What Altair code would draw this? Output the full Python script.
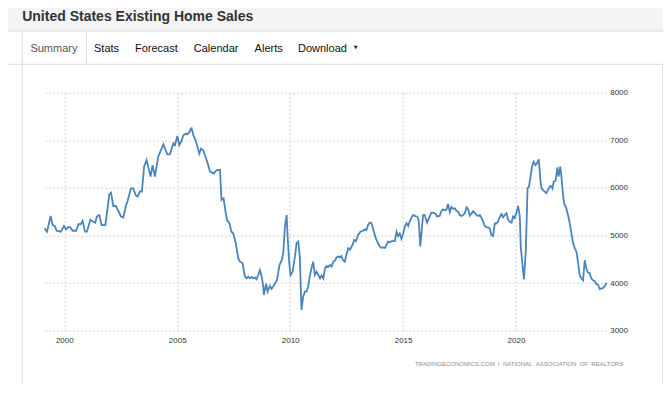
import altair as alt
import pandas as pd

# ---- data (month position after mid-Jan 1999, value in thousands SAAR) ----
month_pos = [
    1.0, 2.3, 4.2, 5.3, 6.4, 7.4, 9.7, 11.3, 12.4, 13.6, 14.7, 15.9, 17.7, 19.1, 20.2, 21.2,
    22.5, 23.5, 25.3, 26.9, 27.9, 28.8, 30.1, 31.3, 33.3, 35.4, 36.3, 37.5, 38.9, 41.6, 42.8,
    44.2, 45.1, 46.9, 48.1, 49.5, 50.4, 51.8, 52.7, 53.9,
    55.2, 57.3, 58.4, 59.6, 61.4, 64.1, 66.2, 67.6, 69.4, 70.3, 71.5, 72.6, 73.8, 74.7, 76.1,
    76.8, 77.9, 78.6, 79.1, 80.0, 81.2, 83.2, 84.1, 85.3, 87.1, 88.9, 90.9, 92.3, 94.2, 95.0,
    96.1, 97.3, 98.0, 99.2, 100.3, 101.2, 102.6, 103.9,
    104.8, 106.2, 107.4, 108.3, 109.2, 110.1, 111.0, 111.8, 112.7, 113.6, 114.5, 115.4, 116.3,
    117.2, 117.5, 118.7, 119.5, 120.7, 121.6, 122.5, 124.5, 125.8, 127.0, 127.8, 128.7, 129.6,
    130.1, 131.0, 131.7, 132.8, 134.0, 134.9, 135.8, 136.6, 137.5, 138.4, 139.3, 140.2, 141.0,
    141.9, 142.8, 143.7, 144.6, 145.5, 146.4, 147.3, 148.2, 149.1, 150.0, 150.8, 151.7, 152.6,
    153.5, 154.4, 155.3, 156.1, 157.0, 157.9,
    158.7, 159.6, 160.5, 161.4, 162.3, 163.2, 164.6, 165.5, 166.4, 167.6, 168.8, 170.3, 171.1,
    172.0, 172.9, 173.8, 174.7, 175.6, 177.0, 178.2, 179.1, 180.0, 180.9, 181.8, 182.7, 183.5,
    184.4, 185.3, 186.2, 187.1, 188.0, 188.8, 189.7, 190.6, 191.5, 192.4, 193.3, 194.2, 195.0,
    195.9, 196.8, 197.7, 198.6, 199.4, 199.9, 200.6, 202.1, 203.0, 204.2, 205.3, 206.5, 207.4,
    208.8, 209.5, 210.9,
    211.8, 212.7, 213.6, 214.5, 215.4, 216.3, 217.2, 218.1, 219.0, 219.8, 220.7, 221.6, 222.5,
    223.4, 224.3, 225.2, 226.1, 226.9, 227.8, 228.7, 229.6, 230.5, 231.4, 232.2, 233.1, 234.0,
    234.9, 235.8, 236.7, 237.5, 238.4, 239.3, 240.2, 241.0, 241.9, 242.8, 243.7, 244.6, 245.5,
    246.4, 247.3, 248.2, 249.1, 249.9, 250.8, 251.7, 252.6, 253.5, 254.0, 255.0, 255.7, 256.7,
    257.6, 258.4, 259.2, 260.0, 260.9, 261.8, 262.7, 263.6, 264.5,
    265.0, 265.8, 266.7, 267.6, 268.5, 269.4, 270.1, 270.8, 271.5, 272.5, 273.5, 274.1, 275.0,
    275.6, 276.5, 277.0, 278.2, 279.7, 280.9, 281.8, 282.7, 283.6, 284.5, 285.3, 286.2, 287.1,
    288.0, 288.8, 289.7, 290.6, 291.5, 292.4, 293.3, 294.2, 295.1, 296.0, 296.9, 297.8, 298.7,
    299.6,
]
home_sales = [
    5150, 5080, 5410, 5220, 5200, 5100, 5080, 5200, 5130, 5180, 5170, 5100, 5100, 5240, 5235, 5310,
    5080, 5080, 5330, 5290, 5270, 5400, 5430, 5220, 5220, 5870, 5900, 5620, 5620, 5400, 5380,
    5620, 5730, 5990, 5990, 5840, 5820, 5930, 5920, 6450,
    6587, 6237, 6480, 6237, 6656, 6916, 6706, 6706, 6937, 6900, 7090, 6900, 6990, 7104, 7140,
    7125, 7170, 7237, 7251, 7111, 7006, 6720, 6825, 6790, 6587, 6342, 6300, 6370, 6380, 5746,
    5780, 5467, 5320, 5257, 5080, 5047, 4837, 4522,
    4450, 4420, 4136, 4100, 4136, 4100, 4130, 4100, 4120, 4080, 4170, 4275, 4150,
    3926, 3750, 3990, 3820, 3940, 3880, 3930, 4065, 4380, 4480, 4627, 5187, 5430,
    5000, 4417, 4170, 4240, 4556, 4837, 4870, 4556, 3437, 3716, 3820, 3820, 3920,
    4140, 4313, 4450, 4170, 4240, 4170, 4100, 4160, 4100, 4310, 4360, 4340, 4380,
    4350, 4450, 4470, 4540, 4560, 4540,
    4570, 4480, 4450, 4600, 4733, 4700, 4800, 4907, 4880, 5013, 5080, 5100, 5130,
    5110, 5222, 5270, 5260, 5130, 4940, 4837, 4770, 4740, 4750, 4740, 4800, 4870,
    4860, 4880, 4880, 4880, 5080, 4990, 5040, 4930, 5030, 5187, 5260, 5200, 5300,
    5370, 5430, 5410, 5400, 5370, 5260, 4770, 5430, 5430, 5270, 5370, 5480, 5480,
    5460, 5400, 5410,
    5510, 5550, 5530, 5540, 5660, 5490, 5600, 5560, 5570, 5520, 5500, 5430, 5410,
    5430, 5470, 5590, 5550, 5420, 5460, 5510, 5470, 5430, 5410, 5430, 5370, 5290,
    5200, 5170, 5170, 5150, 5010, 4990, 5257, 5250, 5290, 5383, 5450, 5383, 5430,
    5470, 5330, 5290, 5270, 5400, 5370, 5480, 5620, 5400, 4770, 4345, 4080, 4700,
    5990, 6030, 6236, 6450, 6550, 6480, 6520, 6600, 6130,
    5990, 5960, 5920, 5890, 5960, 6030, 6040, 5990, 6130, 6150, 6433, 6240, 6450,
    6240, 5850, 5680, 5570, 5330, 5050, 4840, 4730, 4660, 4420, 4170, 4100, 4060,
    4480, 4310, 4220, 4210, 4100, 4060, 4040, 3980, 3960, 3870, 3890, 3900, 3940,
    4010,
]

year_ticks = [2000, 2005, 2010, 2015, 2020]
value_ticks = [3000, 4000, 5000, 6000, 7000, 8000]

page_title = "United States Existing Home Sales"
nav_items = ["Summary", "Stats", "Forecast", "Calendar", "Alerts", "Download"]
NB = "\u00a0"
source_text = ("TRADINGECONOMICS.COM" + NB * 2 + "|" + NB * 2 + "NATIONAL" + NB * 2
               + "ASSOCIATION" + NB * 2 + "OF" + NB * 2 + "REALTORS")

# ---- layout ----
CW, CH = 655, 376
W, H = 564, 238
PL, PT = 34.7, 84.7
FONT = "Liberation Sans"

df = pd.DataFrame({
    "year": [1999.044 + m / 12 for m in month_pos],
    "sales": home_sales,
})
one = pd.DataFrame({"k": [0]})


def rect(x, x2, y, y2, color):
    return alt.Chart(one).mark_rect(color=color).encode(
        x=alt.value(x), x2=alt.value(x2), y=alt.value(y), y2=alt.value(y2))


def hrule(x, x2, y, color):
    return alt.Chart(one).mark_rule(color=color, strokeWidth=1).encode(
        x=alt.value(x), x2=alt.value(x2), y=alt.value(y))


def vrule(x, y, y2, color):
    return alt.Chart(one).mark_rule(color=color, strokeWidth=1).encode(
        x=alt.value(x), y=alt.value(y), y2=alt.value(y2))


def label(txt, x, y, size, color, weight="normal", align="left"):
    return alt.Chart(one).mark_text(
        text=txt, align=align, baseline="alphabetic", font=FONT,
        fontSize=size, fontWeight=weight, color=color,
    ).encode(x=alt.value(x), y=alt.value(y))


layers = [
    rect(-PL - 2, CW, -PT - 2, -61.7, "#f4f4f4"),
    hrule(-PL - 2, CW, -61.7, "#d9d9d9"),
    hrule(-PL - 2, CW, -28.4, "#dddddd"),
    vrule(-20.5, -61.7, CH, "#dddddd"),
    vrule(43.7, -61.7, -28.4, "#dddddd"),
    vrule(619.8, -28.4, CH, "#e6e6e6"),
    label(page_title, -20.5, -72, 14, "#333333", weight="bold"),
]

nav_x = [-12.3, 51.3, 92.3, 151.1, 211.9, 255.3]
for i, (item, nx) in enumerate(zip(nav_items, nav_x)):
    layers.append(label(item, nx, -41, 11, "#555555" if i == 0 else "#111111"))

layers.append(
    alt.Chart(one).mark_point(shape="triangle-down", filled=True, size=16,
                              color="#222222", opacity=1).encode(
        x=alt.value(313), y=alt.value(-45.3))
)
layers.append(label(source_text, 372.3, 273.3, 6, "#8c8c8c"))

line = alt.Chart(df).mark_line(color="#4a85bd", strokeWidth=1.8).encode(
    x=alt.X(
        "year:Q",
        scale=alt.Scale(domain=[1999.044, 2024.016], nice=False, zero=False),
        axis=alt.Axis(values=year_ticks, format="d", title=None, grid=True,
                      gridDash=[2, 2], gridColor="#d2d2d2", gridWidth=1,
                      domain=False, ticks=False, tickSize=0, labelPadding=6,
                      labelFontSize=8, labelFont=FONT, labelColor="#333333"),
    ),
    y=alt.Y(
        "sales:Q",
        scale=alt.Scale(domain=[3000, 8000], nice=False, zero=False),
        axis=alt.Axis(orient="right", values=value_ticks, format="d", title=None,
                      grid=True, gridDash=[2, 2], gridColor="#d2d2d2", gridWidth=1,
                      domain=False, ticks=False, tickSize=0, labelPadding=3,
                      labelFontSize=8, labelFont=FONT, labelColor="#333333",
                      labelAlign="left", labelBaseline="middle"),
    ),
)
layers.append(line)

chart = alt.layer(*layers).properties(
    width=W, height=H,
    autosize=alt.AutoSizeParams(type="none"),
    padding={"left": PL, "top": PT, "right": CW - PL - W, "bottom": CH - PT - H},
    background="white",
).configure_view(strokeWidth=0)

chart.save("out.html", embed_options={"renderer": "svg", "actions": False})
